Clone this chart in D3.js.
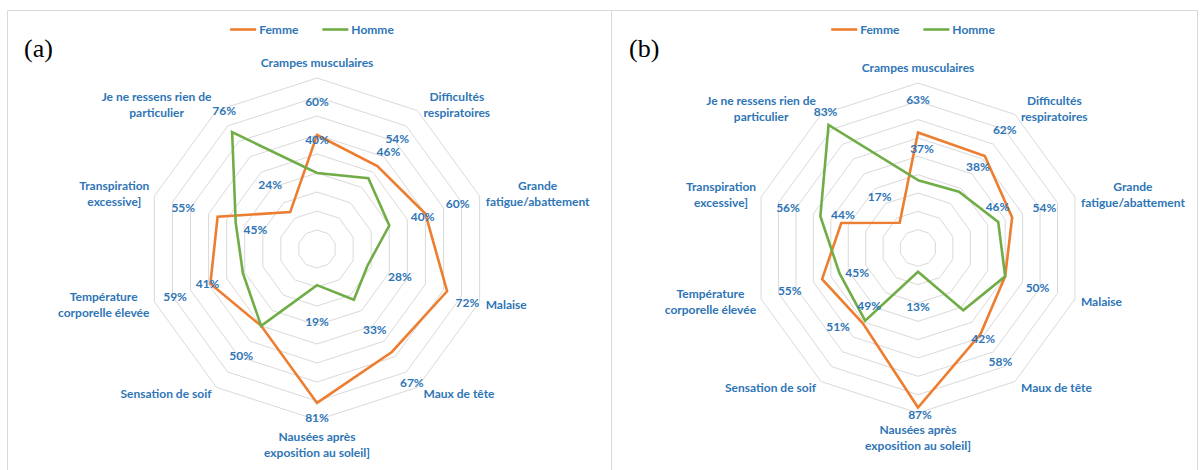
<!DOCTYPE html>
<html>
<head>
<meta charset="utf-8">
<script src="https://cdn.jsdelivr.net/npm/d3@7"></script>
<style>
body{margin:0;background:#fff}
text{font-family:Lato,"Open Sans",sans-serif;font-weight:700}
</style>
</head>
<body>
<svg id="fig" width="1203" height="470"></svg>
<script>
// categories of the radar (multi-line labels as arrays)
var categories = [
  ["Crampes musculaires"],
  ["Difficultés", "respiratoires"],
  ["Grande", "fatigue/abattement"],
  ["Malaise"],
  ["Maux de tête"],
  ["Nausées après", "exposition au soleil]"],
  ["Sensation de soif"],
  ["Température", "corporelle élevée"],
  ["Transpiration", "excessive]"],
  ["Je ne ressens rien de", "particulier"]
];
var seriesNames = ["Femme", "Homme"];

// panel (a)
var femmeA = [60, 54, 60, 72, 67, 81, 50, 59, 55, 24];
var hommeA = [40, 46, 40, 28, 33, 19, 50, 41, 45, 76];
// panel (b)
var femmeB = [63, 62, 54, 50, 58, 87, 51, 55, 44, 17];
var hommeB = [37, 38, 46, 50, 42, 13, 49, 45, 56, 83];

var ringTicks = [10, 20, 30, 40, 50, 60, 70, 80, 90];

// hand moved data labels (pixel nudges from the default spot)
var nudgeFemmeA = [[0,0],[0,0],[0,0],[-12,1],[0,3],[0,-19],[0,2],[-3,2],[-2,1],[0,0]];
var nudgeHommeA = [[0,0],[0,1],[1,1],[0,1],[1,2],[0,2],[0,2],[-3,0],[52,17],[12,6]];
var nudgeFemmeB = [[0,1],[0,1],[0,1],[0,1],[0,0],[2,-27],[-5,-25],[0,1],[34,2],[0,1]];
var nudgeHommeB = [[4,2],[-1,2],[-33,-5],[0,1],[0,1],[0,1],[24,-43],[50,-12],[0,2],[17,14]];

var colors = {Femme: "#ed7d31", Homme: "#70ad47"};
var textColor = "#2e75b6";
var fs = 12;

var svg = d3.select("#fig");

// panel frames
svg.append("path")
  .attr("d", "M7.5,470V10.5H1197.5V470M611.5,10.5V470")
  .attr("fill", "none").attr("stroke", "#d9d9d9").attr("stroke-width", 1);

var radar = function(opts){
  var g = svg.append("g").attr("transform", "translate(" + opts.cx + "," + opts.cy + ")");
  var r = d3.scaleLinear().domain([0, 90]).range([0, opts.R]);
  var ang = d3.scaleLinear().domain([0, categories.length]).range([0, 2 * Math.PI]);
  var idx = d3.range(categories.length);

  // rings
  g.selectAll(".ring").data(ringTicks).enter().append("path")
    .attr("class", "ring")
    .attr("d", function(t){
      return d3.lineRadial().angle(function(i){ return ang(i); })
        .radius(r(t)).curve(d3.curveLinearClosed)(idx);
    })
    .attr("fill", "none").attr("stroke", "#d9d9d9").attr("stroke-width", 1);

  // series
  var series = [
    {name: "Femme", values: opts.femme, nudge: opts.nf},
    {name: "Homme", values: opts.homme, nudge: opts.nh}
  ];
  var line = d3.lineRadial()
    .angle(function(d, i){ return ang(i); })
    .radius(function(d){ return r(d); })
    .curve(d3.curveLinearClosed);

  g.selectAll(".serie").data(series).enter().append("path")
    .attr("d", function(s){ return line(s.values); })
    .attr("fill", "none")
    .attr("stroke", function(s){ return colors[s.name]; })
    .attr("stroke-width", 2.6)
    .attr("stroke-linejoin", "miter");

  // data labels (a label equal to the other series' one sits on top of it, draw it once)
  series.forEach(function(s, k){
    var pts = s.values.map(function(v, i){ return {v: v, i: i}; })
      .filter(function(p){ return k === 0 || p.v !== series[0].values[p.i]; });
    g.selectAll(null).data(pts).enter().append("text")
      .attr("x", function(p){ return Math.sin(ang(p.i)) * (r(p.v) + 34) + s.nudge[p.i][0]; })
      .attr("y", function(p){ return -Math.cos(ang(p.i)) * (r(p.v) + 34) + s.nudge[p.i][1]; })
      .attr("text-anchor", "middle")
      .attr("dominant-baseline", "central")
      .attr("font-size", fs)
      .attr("fill", textColor)
      .text(function(p){ return p.v + "%"; });
  });

  // category labels
  categories.forEach(function(lines, i){
    var a = ang(i), s = Math.sin(a), c = Math.cos(a);
    var vx = s * opts.R, vy = -c * opts.R;
    var lg = g.append("g");
    var tx = lg.selectAll("text").data(lines).enter().append("text")
      .attr("text-anchor", "middle")
      .attr("dominant-baseline", "central")
      .attr("font-size", fs)
      .attr("fill", textColor)
      .attr("y", function(d, k){ return (k - (lines.length - 1) / 2) * 16; })
      .text(function(d){ return d; });
    var w = d3.max(tx.nodes(), function(n){ return n.getComputedTextLength(); });
    var x, y;
    if (s > 0.1) { x = vx + 6 + w / 2; y = vy - 7 * c; }
    else if (s < -0.1) { x = vx - 5 - w / 2; y = vy - 7 * c; }
    else if (c > 0) { x = vx; y = vy - 8 - lines.length * 8; }
    else { x = vx; y = vy + 8 + lines.length * 8; }
    lg.attr("transform", "translate(" + x + "," + y + ")");
  });

  // legend
  var leg = svg.append("g");
  var xx = 0;
  seriesNames.forEach(function(n){
    leg.append("line").attr("x1", xx).attr("x2", xx + 26).attr("y1", 0).attr("y2", 0)
      .attr("stroke", colors[n]).attr("stroke-width", 2.6);
    var t = leg.append("text").attr("x", xx + 29).attr("y", 0)
      .attr("dominant-baseline", "central").attr("font-size", fs)
      .attr("fill", textColor).text(n);
    xx += 29 + t.node().getComputedTextLength() + 24;
  });
  var lw = xx - 24;
  leg.attr("transform", "translate(" + (opts.cx - 5 - lw / 2) + ",29.5)");

  // panel letter
  svg.append("text")
    .attr("x", opts.letterX).attr("y", 57)
    .style("font-family", "'Liberation Serif','Times New Roman',serif")
    .style("font-weight", 400)
    .attr("font-size", 26)
    .attr("fill", "#000")
    .text(opts.letter);
};

radar({cx: 317, cy: 249, R: 171, femme: femmeA, homme: hommeA,
       nf: nudgeFemmeA, nh: nudgeHommeA, letter: "(a)", letterX: 24});
radar({cx: 918, cy: 248, R: 165, femme: femmeB, homme: hommeB,
       nf: nudgeFemmeB, nh: nudgeHommeB, letter: "(b)", letterX: 629});
</script>
</body>
</html>
